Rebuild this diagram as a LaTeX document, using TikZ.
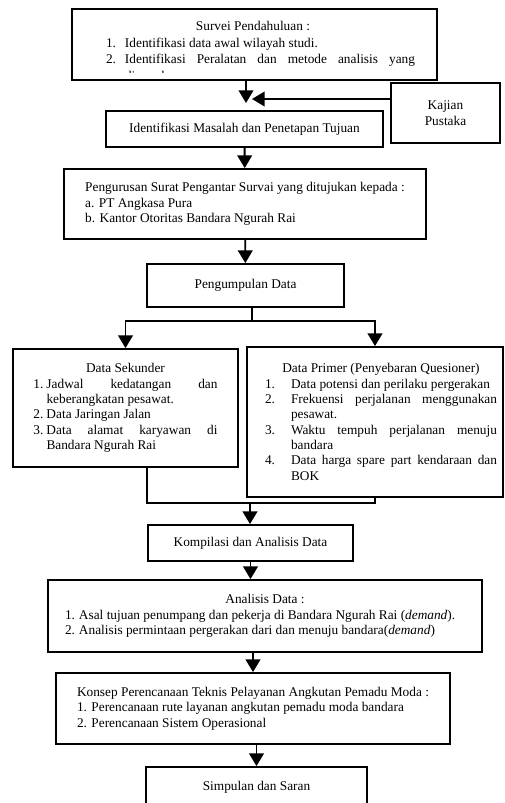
\documentclass[tikz,border=0pt]{standalone}
\usepackage{fontspec}
\setmainfont{Liberation Serif}
\usetikzlibrary{arrows.meta,positioning}
\newcommand{\lsitem}[3]{\par\noindent\hangindent=#1\hangafter=1\makebox[#1][l]{#2}#3\par}

\begin{document}
\begin{tikzpicture}[
    x=0.75pt, y=-0.75pt,
    box/.style={rectangle, draw, line width=1.4pt, inner sep=0pt,
                font=\fontsize{10}{11.5}\selectfont},
    ln/.style={line width=1.4pt},
    arr/.style={-{Triangle[length=9.5pt,width=11pt]}, line width=1.4pt}
  ]
  \clip (0,0) rectangle (504,803);

  % ---- Survei pendahuluan (text runs past the frame) ----
  \node[box, minimum width=273.75pt, minimum height=53.25pt] (survei) at (254.5,44.5) {};
  \begin{scope}
    \clip (74,11) rectangle (435,72.5);
    \node[anchor=north, inner sep=0pt, font=\fontsize{10}{12.4}\selectfont]
      (surveitxt) at (260.5,21.4) {\begin{minipage}{231.75pt}
        {\centering\hspace*{-11.25pt}Survei Pendahuluan :\par}
        \lsitem{14.25pt}{1.}{Identifikasi data awal wilayah studi.}
        \lsitem{14.25pt}{2.}{Identifikasi Peralatan dan metode analisis yang\linebreak digunakan}
      \end{minipage}};
  \end{scope}

  % ---- Kajian pustaka ----
  \node[box, align=center, minimum width=81.75pt, minimum height=45pt]
    (kajian) at (445.5,113) {Kajian\\Pustaka};

  % ---- Masalah, surat, pengumpulan ----
  \node[box, minimum width=207.75pt, minimum height=27pt] (masalah) at (244.5,129)
    {Identifikasi Masalah dan Penetapan Tujuan};
  \node[box, align=left, minimum width=271.5pt, minimum height=52.5pt] (surat) at (245,204)
    {Pengurusan Surat Pengantar Survai yang ditujukan kepada :\\
     a. PT Angkasa Pura\\
     b. Kantor Otoritas Bandara Ngurah Rai};
  \node[box, minimum width=147.75pt, minimum height=32.25pt] (kumpul) at (245.5,285.5)
    {Pengumpulan Data};

  % ---- Data sekunder / primer ----
  \node[box, inner xsep=15.4pt, minimum height=88.5pt] (sekunder) at (125.5,408)
    {\begin{minipage}{138pt}
      {\centering Data Sekunder\par}
      \lsitem{9.75pt}{1.}{Jadwal kedatangan dan\linebreak keberangkatan pesawat.}
      \lsitem{9.75pt}{2.}{Data Jaringan Jalan}
      \lsitem{9.75pt}{3.}{Data alamat karyawan di\linebreak Bandara Ngurah Rai}
    \end{minipage}};
  \node[box, inner xsep=4.5pt, minimum height=112.5pt] (primer) at (375,422)
    {\hspace*{9pt}\begin{minipage}{174pt}
      {\centering Data Primer (Penyebaran Quesioner)\par}
      \lsitem{19.5pt}{1.}{Data potensi dan perilaku pergerakan}
      \lsitem{19.5pt}{2.}{Frekuensi perjalanan menggunakan\linebreak pesawat.}
      \lsitem{19.5pt}{3.}{Waktu tempuh perjalanan menuju\linebreak bandara}
      \lsitem{19.5pt}{4.}{Data harga spare part kendaraan dan\linebreak BOK}
    \end{minipage}};

  % ---- Kompilasi, analisis, konsep, simpulan ----
  \node[box, minimum width=153.75pt, minimum height=27pt] (kompilasi) at (250.5,543)
    {Kompilasi dan Analisis Data};
  \node[box, inner xsep=12.75pt, minimum height=54pt] (analisis) at (265,616)
    {\begin{minipage}{300pt}
      {\centering Analisis Data :\par}
      \lsitem{10.5pt}{1.}{\mbox{Asal tujuan penumpang dan pekerja di Bandara Ngurah Rai (\textit{demand}).}}
      \lsitem{10.5pt}{2.}{\mbox{Analisis permintaan pergerakan dari dan menuju bandara(\textit{demand})}}
    \end{minipage}};
  \node[box, align=left, minimum width=295.5pt, minimum height=53.25pt] (konsep) at (253,708.5)
    {Konsep Perencanaan Teknis Pelayanan Angkutan Pemadu Moda :\\
     1. Perencanaan rute layanan angkutan pemadu moda bandara\\
     2. Perencanaan Sistem Operasional};
  \node[box, minimum width=165.75pt, minimum height=30pt] (simpulan) at (256.5,787)
    {Simpulan dan Saran};

  % ---- Connectors ----
  \coordinate (meet) at (246,103);
  \coordinate (meetR) at (252,99);
  \draw[arr] (survei.south -| meet) -- (meet);
  \draw[arr] (kajian.west |- meetR) -- (meetR);
  \draw[arr] (masalah) -- (surat);
  \draw[arr] (surat) -- (kumpul);

  \coordinate (split) at (252,321);
  \draw[ln] (kumpul.south -| split) -- (split);
  \draw[arr] (split) -| (sekunder.north);
  \draw[arr] (split) -| (primer.north);

  \coordinate (joinL) at (147,503);
  \coordinate (joinR) at (375,503);
  \coordinate (join) at (250,503);
  \draw[ln] (sekunder.south -| joinL) -- (joinL) -- (joinR) -- (primer.south -| joinR);
  \draw[arr] (join) -- (kompilasi.north -| join);

  \draw[arr] (kompilasi.south) -- (kompilasi.south |- analisis.north);
  \draw[arr] (analisis.south -| konsep.north) -- (konsep.north);
  \draw[arr] (konsep.south -| simpulan.north) -- (simpulan.north);

\end{tikzpicture}
\end{document}
